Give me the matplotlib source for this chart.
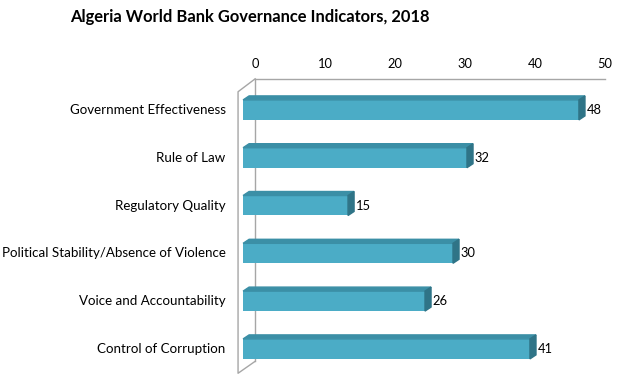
# Algeria governance indicators - pseudo 3D horizontal bars
import numpy as np
import matplotlib.pyplot as plt
from matplotlib.patches import Polygon

categories = ["Government Effectiveness", "Rule of Law", "Regulatory Quality",
              "Political Stability/Absence of Violence", "Voice and Accountability",
              "Control of Corruption"]
values = [48, 32, 15, 30, 26, 41]
ticks = [0, 10, 20, 30, 40, 50]

plt.rcParams['font.family'] = ['Lato', 'DejaVu Sans']

fig = plt.figure(figsize=(6.26, 3.75), dpi=100)
# axes placed so that 0 -> px 255 and 50 -> px 603 on the back wall
ax = fig.add_axes([230 / 626, 0, 380 / 626, 305 / 375])
ax.set_xlim(-3.59, 50.72)
ax.set_ylim(5.586, -0.795)
ax.axis('off')

front = -1.72      # shift of bar fronts relative to back wall (x units)
dx, dy = 0.862, -0.084   # bar depth offset
h = 0.418
face = '#4bacc6'
top = '#3b8fa6'
side = '#2f7487'
wall = '#a6a6a6'

y = np.arange(len(categories)) + 0.04

# walls
wx0, wx1 = -2.44, 0
ytop, ybot = -0.61, 5.55
ax.plot([wx1, 50], [ytop, ytop], color=wall, lw=1)
ax.plot([wx1, wx0, wx0, wx1], [ytop, ytop + 0.27, ybot, ybot - 0.25], color=wall, lw=1)
ax.plot([wx1, wx1], [ytop, ybot - 0.25], color=wall, lw=1)

ax.barh(y, values, left=front, height=h, color=face, zorder=3)
for yi, v in zip(y, values):
    x1 = front + v
    t = [(front, yi - h / 2), (front + dx, yi - h / 2 + dy),
         (x1 + dx, yi - h / 2 + dy), (x1, yi - h / 2)]
    s = [(x1, yi - h / 2), (x1 + dx, yi - h / 2 + dy),
         (x1 + dx, yi + h / 2 + dy), (x1, yi + h / 2)]
    ax.add_patch(Polygon(t, closed=True, color=top, zorder=3))
    ax.add_patch(Polygon(s, closed=True, color=side, zorder=3))
    ax.text(x1 + dx + 0.2, yi, str(v), va='center', ha='left', fontsize=9.3)

for t in ticks:
    ax.text(t, ytop - 0.32, str(t), ha='center', va='center', fontsize=9.3)
for yi, c in zip(y, categories):
    ax.text(-4.2, yi, c, ha='right', va='center', fontsize=9.6, clip_on=False)

fig.text(250 / 626, 1 - 17 / 375, "Algeria World Bank Governance Indicators, 2018",
         ha='center', va='center', fontsize=11.9, fontweight='bold')

fig.savefig('out.png', dpi=100)
